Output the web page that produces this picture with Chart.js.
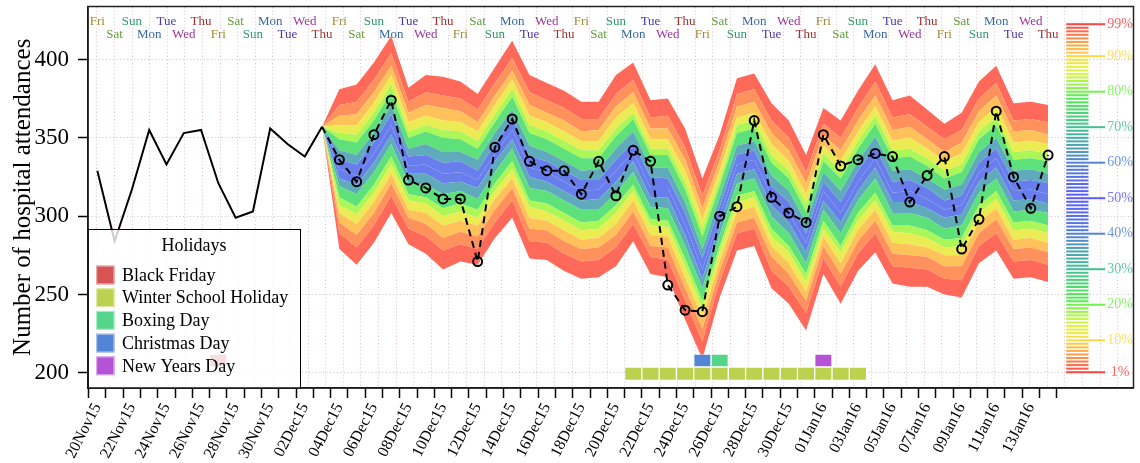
<!DOCTYPE html>
<html>
<head>
<meta charset="utf-8">
<script src="https://cdn.jsdelivr.net/npm/chart.js@4.4.1/dist/chart.umd.min.js"></script>
<style>
  html, body { margin: 0; padding: 0; background: #fff; }
  #wrap { width: 1140px; height: 463px; }
</style>
</head>
<body>
<div id="wrap"><canvas id="fanChart"></canvas></div>
<script>
// day 0 = 20 Nov 2015
const startDate = Date.UTC(2015, 10, 20);
const dayCount = 56;
const monthNames = ['Jan','Feb','Mar','Apr','May','Jun','Jul','Aug','Sep','Oct','Nov','Dec'];
const dayNames = ['Sun','Mon','Tue','Wed','Thu','Fri','Sat'];

const dateLabels = [];
const weekdayLabels = [];
for (let d = 0; d < dayCount; d++) {
  const t = new Date(startDate + d * 86400000);
  dateLabels.push(String(t.getUTCDate()).padStart(2, '0') + monthNames[t.getUTCMonth()] + String(t.getUTCFullYear()).slice(2));
  weekdayLabels.push(dayNames[t.getUTCDay()]);
}

// observed attendances before the forecast (days 0..13)
const historyValues = [329, 284, 317, 355, 333, 353, 355, 321, 299, 303, 356, 346, 338, 357];

// forecast period starts on day 13 (03Dec15)
const fanStart = 13;
const observedValues = [357, 336, 322, 352, 374, 323, 318, 311, 311, 271, 344,
  362, 335, 329, 329, 314, 335, 313, 342, 335, 256,
  240, 239, 300, 306, 361, 312, 302, 296, 352, 332,
  336, 340, 338, 309, 326, 338, 279, 298, 367, 325,
  305, 339];

// forecast quantiles (03Dec15 .. 14Jan16)
const q01 = [357, 279, 269, 283, 302, 282, 276, 266, 271, 269, 286,
  299, 273, 272, 265, 260, 261, 268, 284, 263, 261,
  234, 209, 248, 278, 281, 254, 244, 227, 263, 244,
  265, 277, 257, 255, 255, 250, 248, 270, 278, 260, 261, 258];
const q03 = [357, 289, 280, 294, 313, 292, 287, 278, 282, 279, 296,
  310, 284, 283, 276, 271, 272, 280, 295, 274, 272,
  246, 220, 258, 289, 292, 265, 255, 238, 273, 255,
  276, 289, 268, 267, 266, 260, 259, 281, 289, 271, 272, 269];
const q06 = [357, 296, 288, 302, 321, 299, 295, 286, 290, 287, 304,
  318, 292, 291, 284, 279, 280, 288, 303, 281, 280,
  254, 228, 265, 296, 299, 274, 263, 246, 281, 263,
  284, 297, 276, 275, 274, 268, 268, 289, 298, 279, 280, 277];
const q10 = [357, 302, 295, 309, 327, 304, 302, 294, 297, 294, 311,
  324, 299, 297, 291, 285, 286, 295, 310, 288, 287,
  261, 235, 271, 303, 306, 281, 270, 252, 287, 270,
  291, 304, 283, 282, 280, 275, 275, 296, 305, 285, 286, 283];
const q15 = [357, 307, 301, 315, 333, 310, 308, 300, 303, 299, 316,
  330, 306, 303, 297, 291, 292, 302, 316, 294, 293,
  268, 241, 277, 309, 312, 287, 277, 258, 292, 277,
  297, 310, 290, 289, 286, 280, 281, 302, 311, 291, 292, 289];
const q20 = [357, 312, 306, 320, 338, 314, 312, 305, 308, 304, 321,
  335, 310, 308, 302, 296, 297, 307, 320, 298, 297,
  273, 246, 281, 313, 316, 292, 281, 263, 297, 281,
  302, 315, 294, 294, 291, 285, 286, 307, 316, 296, 297, 294];
const q30 = [357, 319, 314, 328, 346, 321, 320, 314, 316, 311, 328,
  343, 318, 316, 310, 304, 304, 315, 328, 306, 305,
  281, 254, 288, 321, 324, 300, 289, 270, 304, 289,
  310, 324, 302, 302, 299, 292, 294, 315, 324, 303, 304, 302];
const q40 = [357, 324, 320, 334, 352, 327, 327, 321, 322, 318, 335,
  349, 325, 322, 316, 310, 311, 322, 335, 312, 312,
  288, 260, 294, 327, 330, 307, 296, 277, 310, 296,
  316, 331, 309, 309, 305, 299, 301, 322, 331, 310, 311, 308];
const q50 = [357, 330, 326, 340, 358, 332, 333, 327, 328, 323, 340,
  355, 331, 328, 322, 316, 317, 329, 341, 318, 318,
  295, 266, 300, 333, 336, 313, 302, 283, 316, 302,
  322, 337, 315, 316, 311, 304, 307, 328, 337, 316, 317, 314];
const q60 = [357, 336, 333, 347, 365, 338, 339, 334, 335, 329, 346,
  362, 338, 335, 329, 323, 323, 336, 347, 325, 324,
  302, 273, 306, 339, 342, 319, 309, 289, 322, 309,
  329, 344, 322, 323, 318, 310, 313, 334, 343, 322, 323, 321];
const q70 = [357, 342, 339, 353, 371, 343, 346, 341, 341, 336, 353,
  368, 345, 341, 335, 329, 330, 343, 354, 331, 331,
  309, 279, 312, 345, 348, 326, 316, 296, 328, 316,
  335, 351, 329, 330, 324, 317, 320, 341, 350, 329, 330, 327];
const q80 = [357, 349, 347, 361, 379, 350, 354, 350, 349, 343, 360,
  376, 353, 349, 343, 337, 337, 351, 362, 339, 339,
  317, 287, 319, 353, 356, 334, 324, 303, 335, 324,
  343, 359, 337, 338, 332, 324, 328, 349, 358, 336, 337, 335];
const q85 = [357, 353, 352, 366, 384, 354, 358, 355, 354, 348, 365,
  381, 358, 354, 348, 342, 342, 356, 366, 343, 343,
  322, 292, 323, 358, 361, 339, 329, 308, 340, 329,
  348, 364, 342, 343, 337, 329, 333, 354, 363, 341, 342, 340];
const q90 = [357, 358, 358, 372, 390, 360, 364, 361, 360, 354, 371,
  387, 364, 360, 354, 348, 348, 363, 372, 349, 349,
  329, 298, 329, 363, 366, 346, 335, 314, 345, 335,
  354, 370, 348, 350, 343, 335, 340, 360, 370, 347, 348, 346];
const q94 = [357, 364, 365, 379, 396, 366, 371, 369, 367, 360, 377,
  393, 371, 366, 361, 354, 355, 370, 379, 356, 356,
  336, 305, 335, 370, 373, 353, 342, 321, 352, 342,
  361, 377, 355, 357, 349, 341, 347, 367, 377, 354, 355, 352];
const q97 = [357, 371, 373, 387, 404, 373, 379, 377, 375, 368, 385,
  401, 379, 374, 369, 362, 362, 378, 387, 363, 364,
  344, 313, 342, 378, 381, 361, 350, 328, 359, 350,
  369, 386, 363, 365, 357, 349, 355, 375, 385, 361, 362, 360];
const q99 = [357, 381, 384, 398, 415, 382, 390, 389, 386, 378, 395,
  412, 390, 385, 380, 373, 373, 390, 398, 374, 375,
  356, 324, 352, 388, 391, 372, 361, 339, 369, 361,
  380, 397, 374, 377, 368, 359, 366, 386, 396, 372, 373, 371];

// holidays (day index)
const holidayNames = ['Black Friday', 'Winter School Holiday', 'Boxing Day', 'Christmas Day', 'New Years Day'];
const holidayDays = [[7], [31, 32, 33, 34, 35, 36, 37, 38, 39, 40, 41, 42, 43, 44], [36], [35], [42]];
const holidayRows = [1, 0, 1, 1, 1];
const holidayColours = ['#d65454', '#bcd24f', '#53d58a', '#5384d6', '#b553d6'];

const colorbarTicks = [1, 10, 20, 30, 40, 50, 60, 70, 80, 90, 99];

// ---- styling helpers ----
const serif = "'Liberation Serif', 'DejaVu Serif', serif";
const rowBands = [[195.1, 203.7], [203.7, 211.9]];
const weekdayColours = {
  Fri: '#9e8b30', Sat: '#5f9e38', Sun: '#2f9c68', Mon: '#37699f',
  Tue: '#4c37aa', Wed: '#9d369d', Thu: '#9e2f2f'
};

const colourStops = [
  [0.00, [92, 92, 255]],
  [0.20, [85, 130, 215]],
  [0.40, [70, 190, 150]],
  [0.58, [80, 240, 80]],
  [0.72, [215, 250, 60]],
  [0.82, [255, 215, 70]],
  [0.92, [255, 140, 75]],
  [1.00, [255, 70, 70]]
];
function percentColour(p, whiten) {
  const d = Math.min(1, Math.abs(p - 50) / 49);
  let c = colourStops[colourStops.length - 1][1];
  for (let i = 1; i < colourStops.length; i++) {
    if (d <= colourStops[i][0]) {
      const [d0, c0] = colourStops[i - 1];
      const [d1, c1] = colourStops[i];
      const f = (d - d0) / (d1 - d0);
      c = c0.map((v, k) => v + (c1[k] - v) * f);
      break;
    }
  }
  const w = whiten || 0;
  c = c.map(v => Math.round(v + (255 - v) * w));
  return `rgb(${c[0]},${c[1]},${c[2]})`;
}

const fanLevels = [
  [1, q01], [3, q03], [6, q06], [10, q10], [15, q15], [20, q20], [30, q30], [40, q40],
  [50, q50], [60, q60], [70, q70], [80, q80], [85, q85], [90, q90], [94, q94], [97, q97], [99, q99]
];

const toPoints = (arr, start) => arr.map((v, i) => ({ x: start + i, y: v }));

const fanDatasets = fanLevels.map(([p, values], i) => ({
  type: 'line',
  label: 'q' + p,
  data: toPoints(values, fanStart),
  borderWidth: 0,
  borderColor: 'rgba(0,0,0,0)',
  backgroundColor: i > 0 ? percentColour((p + fanLevels[i - 1][0]) / 2, 0.1) : 'rgba(0,0,0,0)',
  pointRadius: 0,
  fill: i === 0 ? false : '-1',
  tension: 0,
  order: 10
}));

const holidayDatasets = holidayNames.map((name, h) => ({
  type: 'bar',
  label: name,
  data: holidayDays[h].map(d => ({ x: d, y: rowBands[holidayRows[h]] })),
  backgroundColor: holidayColours[h],
  borderColor: 'rgba(255,255,255,0.45)',
  borderWidth: 1,
  borderSkipped: false,
  grouped: false,
  barPercentage: 1,
  categoryPercentage: 1,
  order: 5
}));

const historyDataset = {
  type: 'line',
  label: 'history',
  data: toPoints(historyValues, 0),
  borderColor: '#000',
  borderWidth: 2,
  pointRadius: 0,
  fill: false,
  tension: 0,
  order: 1
};

const observedDataset = {
  type: 'line',
  label: 'observed',
  data: toPoints(observedValues, fanStart),
  borderColor: '#000',
  borderWidth: 2,
  borderDash: [7, 5],
  pointRadius: ctx => ctx.dataIndex === 0 ? 0 : 4.5,
  pointBorderWidth: 2,
  pointBorderColor: '#000',
  pointBackgroundColor: 'rgba(0,0,0,0)',
  fill: false,
  tension: 0,
  order: 0
};

const overlayPlugin = {
  id: 'overlay',
  afterDraw(chart) {
    const { ctx, chartArea: area, scales: { x } } = chart;
    ctx.save();

    // weekday names across the top
    ctx.save();
    ctx.beginPath();
    ctx.rect(area.left, area.top, area.right - area.left, area.bottom - area.top);
    ctx.clip();
    ctx.font = `13px ${serif}`;
    ctx.textAlign = 'center';
    ctx.textBaseline = 'middle';
    weekdayLabels.forEach((name, d) => {
      ctx.fillStyle = weekdayColours[name];
      ctx.fillText(name, x.getPixelForValue(d), area.top + (d % 2 === 0 ? 14.7 : 28));
    });
    ctx.restore();

    // percentile colour bar
    const yTop = area.top + 17.7, yBot = area.top + 365.7;
    const x0 = area.right - 67.3, x1 = area.right - 45, x2 = area.right - 28.3;
    ctx.font = `14px ${serif}`;
    ctx.textAlign = 'center';
    ctx.textBaseline = 'middle';
    for (let p = 1; p <= 99; p++) {
      const y = yBot - (p - 1) / 98 * (yBot - yTop);
      ctx.fillStyle = percentColour(p, 0);
      const long = colorbarTicks.includes(p);
      ctx.fillRect(x0, y - 1, (long ? x2 : x1) - x0, 2);
      if (long) {
        ctx.fillStyle = percentColour(p, 0.15);
        ctx.fillText(p + '%', area.right - 13.5, y);
      }
    }

    // holidays legend
    const bx = area.left, by = 229, bw = 212, bh = area.bottom - by;
    ctx.fillStyle = 'rgba(255,255,255,0.8)';
    ctx.fillRect(bx, by, bw, bh);
    ctx.strokeStyle = '#000';
    ctx.lineWidth = 1;
    ctx.strokeRect(bx + 0.5, by + 0.5, bw, bh);
    ctx.fillStyle = '#000';
    ctx.font = `18px ${serif}`;
    ctx.textAlign = 'center';
    ctx.fillText('Holidays', bx + 106, by + 17.5);
    ctx.textAlign = 'left';
    holidayNames.forEach((name, h) => {
      const cy = by + 46 + h * 22.7;
      ctx.fillStyle = holidayColours[h];
      ctx.fillRect(bx + 8, cy - 9.5, 18.6, 19);
      ctx.strokeStyle = 'rgba(255,255,255,0.5)';
      ctx.lineWidth = 1.2;
      ctx.strokeRect(bx + 8.6, cy - 8.9, 17.4, 17.8);
      ctx.fillStyle = '#000';
      ctx.fillText(name, bx + 34, cy + 1);
    });

    // frame
    ctx.strokeStyle = '#222';
    ctx.lineWidth = 1.5;
    ctx.strokeRect(area.left, area.top, area.right - area.left, area.bottom - area.top);
    ctx.restore();
  }
};

const dayTicks = [];
for (let d = 0; d < dayCount; d++) dayTicks.push(d);
const halfDayTicks = [];
for (let d = 0; d < 59; d++) halfDayTicks.push(d + 0.5);

const noPad = s => { s.paddingTop = 0; s.paddingBottom = 0; s.paddingLeft = 0; s.paddingRight = 0; };

new Chart(document.getElementById('fanChart'), {
  type: 'line',
  data: {
    datasets: [...fanDatasets, ...holidayDatasets, historyDataset, observedDataset]
  },
  options: {
    responsive: true,
    maintainAspectRatio: false,
    animation: false,
    devicePixelRatio: 1,
    layout: { padding: { top: 4, right: 5, left: 0, bottom: 0 } },
    plugins: {
      legend: { display: false },
      tooltip: { enabled: false }
    },
    scales: {
      x: {
        type: 'linear',
        min: 0,
        max: 59.4,
        afterBuildTicks: s => { s.ticks = dayTicks.map(v => ({ value: v })); },
        afterFit: s => { s.height = 75; noPad(s); },
        grid: { drawOnChartArea: false, drawTicks: true, tickLength: 10, tickColor: '#000', tickWidth: 1.5 },
        border: { display: true, color: '#000', width: 1.5 },
        ticks: {
          autoSkip: false,
          minRotation: 63,
          maxRotation: 63,
          padding: 2,
          color: '#000',
          font: { family: serif, size: 16 },
          callback: v => (v % 2 === 0 ? dateLabels[v] : '')
        }
      },
      xGrid: {
        type: 'linear',
        position: 'top',
        min: 0,
        max: 59.4,
        afterBuildTicks: s => { s.ticks = halfDayTicks.map(v => ({ value: v })); },
        afterFit: s => { s.height = 0; noPad(s); },
        ticks: { display: false },
        grid: { color: 'rgba(228,186,198,0.9)', lineWidth: 1, drawTicks: false },
        border: { display: false, dash: [1, 2.5] }
      },
      y: {
        type: 'linear',
        min: 190.3,
        max: 433.8,
        afterBuildTicks: s => { s.ticks = [200, 250, 300, 350, 400].map(v => ({ value: v })); },
        afterFit: s => { s.width = 88; noPad(s); },
        title: {
          display: true,
          text: 'Number of hospital attendances',
          color: '#000',
          font: { family: serif, size: 25 },
          padding: { top: 8, bottom: 0 }
        },
        grid: { color: '#c4c4c4', lineWidth: 1, tickLength: 10, tickColor: '#000', tickWidth: 1.5 },
        border: { display: true, color: '#000', width: 1.5, dash: [1, 2.5] },
        ticks: {
          padding: 9,
          color: '#000',
          font: { family: serif, size: 23 }
        }
      }
    }
  },
  plugins: [overlayPlugin]
});
</script>
</body>
</html>
